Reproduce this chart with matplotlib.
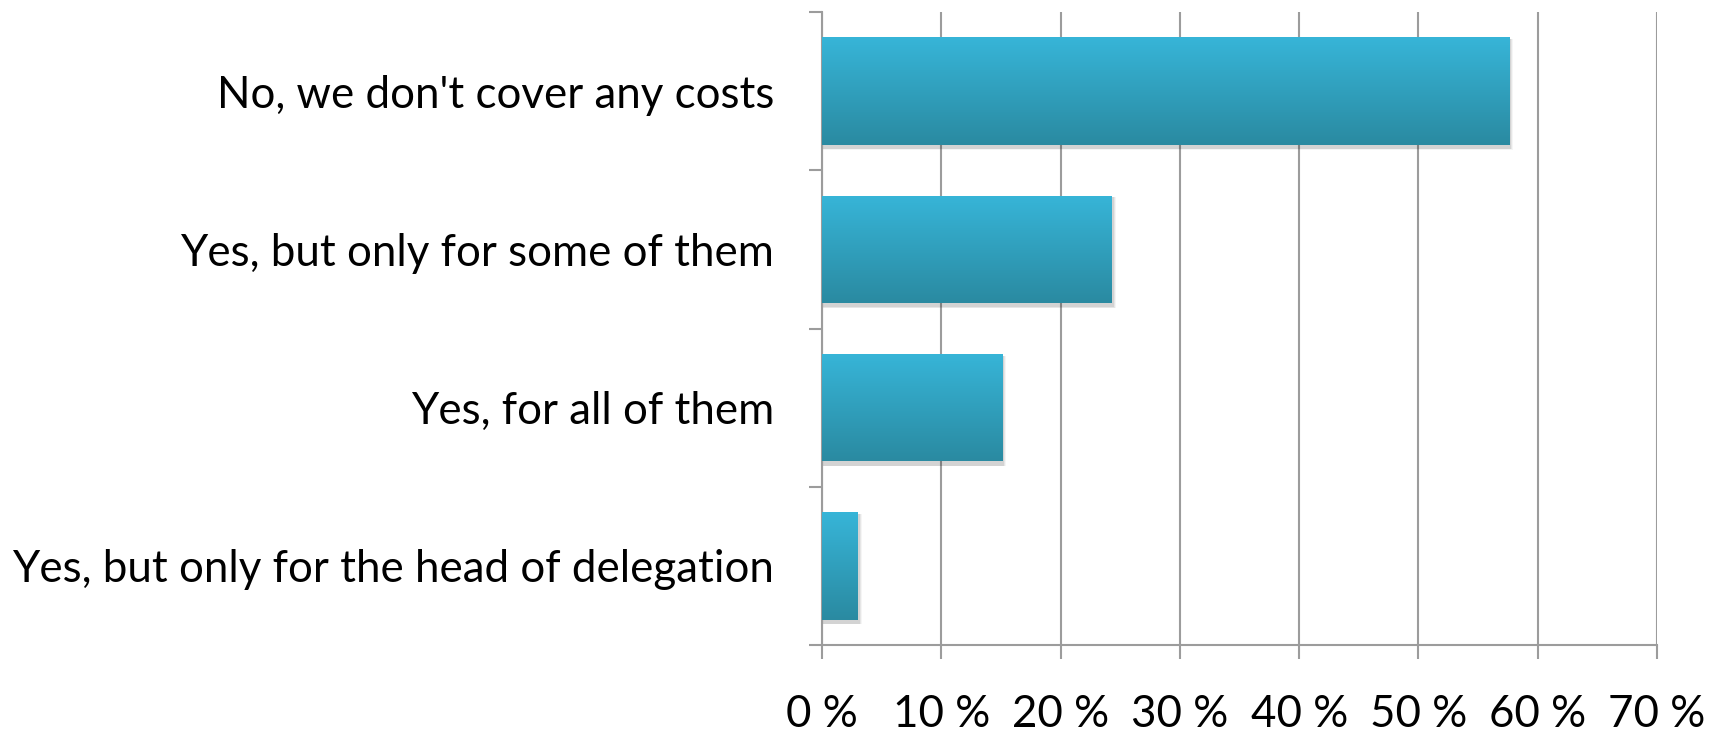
import matplotlib
matplotlib.use("Agg")
import matplotlib.pyplot as plt
import numpy as np
from matplotlib.patches import Rectangle
from matplotlib.colors import LinearSegmentedColormap

categories = ["No, we don't cover any costs",
              "Yes, but only for some of them",
              "Yes, for all of them",
              "Yes, but only for the head of delegation"]
values = [57.6, 24.3, 15.1, 3.0]
xticks = [0, 10, 20, 30, 40, 50, 60, 70]
xtick_labels = ["0 %", "10 %", "20 %", "30 %", "40 %", "50 %", "60 %", "70 %"]

plt.rcParams['font.family'] = ['Lato', 'DejaVu Sans']

W, H = 1719, 738
fig = plt.figure(figsize=(W/100, H/100), dpi=100)
ax = fig.add_axes([822/W, 1-645/H, (1657-822)/W, (645-12)/H])

grid_c = '#9C9C9C'
cmap = LinearSegmentedColormap.from_list('g', ['#37B5D8', '#2A8AA1'])
grad = np.linspace(0, 1, 256).reshape(-1, 1)
h = 0.68
for i, v in enumerate(values):
    # soft shadow
    for k, a in [(0.35, 0.04), (0.25, 0.06), (0.15, 0.08)]:
        sh = Rectangle((0.0, i - h/2 + 0.012), v + k, h + 0.012 + k*0.015,
                       facecolor='#000000', alpha=a, edgecolor='none', zorder=2)
        ax.add_patch(sh)
    rect = Rectangle((0, i - h/2), v, h, facecolor='none', edgecolor='none', zorder=3)
    ax.add_patch(rect)
    im = ax.imshow(grad, cmap=cmap, aspect='auto', extent=[0, v, i + h/2, i - h/2],
                   zorder=3, interpolation='bilinear')
    im.set_clip_path(rect)

ax.set_xlim(0, 70)
ax.set_ylim(len(categories) - 0.5, -0.5)

ax.set_xticks(xticks)
ax.set_xticklabels(xtick_labels, fontsize=31.6)
ax.set_yticks(range(len(categories)))
ax.set_yticklabels(categories, fontsize=31.6)
ax.tick_params(axis='y', length=0, pad=34.5)
ax.tick_params(axis='x', length=14*0.72, width=1.5, color=grid_c, pad=25)
ax.set_yticks([-0.5, 0.5, 1.5, 2.5, 3.5], minor=True)
ax.tick_params(axis='y', which='minor', length=13*0.72, width=1.5, color=grid_c)

ax.grid(axis='x', color=grid_c, linewidth=1.5, zorder=0)
ax.set_axisbelow(True)
for s in ['top', 'right']:
    ax.spines[s].set_visible(False)
for s in ['left', 'bottom']:
    ax.spines[s].set_color(grid_c)
    ax.spines[s].set_linewidth(1.5)

fig.savefig('out.png', dpi=100, facecolor='white')
